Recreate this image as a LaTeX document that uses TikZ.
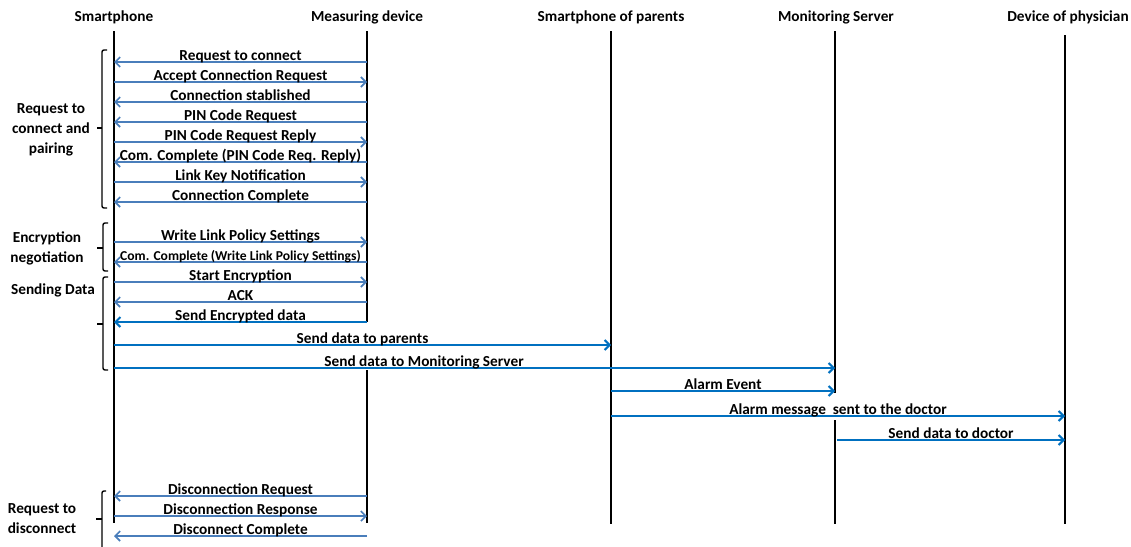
\documentclass[tikz,border=0pt]{standalone}
\usepackage{fontspec}
\setmainfont{Carlito}
\usetikzlibrary{arrows.meta}
\definecolor{msgblue}{HTML}{4A7EBB}
\definecolor{datablue}{HTML}{0070C0}
\newcommand\msgline[5][msg]{%
  \draw[#1] ([yshift=-#2pt]#3) -- node[lbl]{#5} ([yshift=-#2pt]#4);}
\begin{document}
\begin{tikzpicture}[x=1pt,y=-1pt,
  font=\bfseries\fontsize{15.3}{18}\selectfont,
  life/.style={line width=1.7pt,black},
  msg/.style={line width=1.6pt,msgblue,-{Straight Barb[length=5pt,width=10pt]}},
  data/.style={msg,line width=2pt,datablue},
  lbl/.style={midway,anchor=base,yshift=2pt,inner sep=0pt,text=black},
  head/.style={inner sep=0pt},
  group/.style={align=center,inner sep=0pt},
  brace/.style={line width=1.4pt,black,rounded corners=2pt}]
\useasboundingbox (0,0) rectangle (1131,546);

% participants
\node[head] (hsp)  at (114,17)  {Smartphone};
\node[head] (hmd)  at (367,17)  {Measuring device};
\node[head] (hpar) at (611,17)  {Smartphone of parents};
\node[head] (hmon) at (836,17)  {Monitoring Server};
\node[head] (hdoc) at (1068,17) {Device of physician};

% lifeline anchors (top of each lifeline)
\coordinate (sp)  at (114,0);
\coordinate (md)  at (367,0);
\coordinate (par) at (611,0);
\coordinate (mon) at (835,0);
\coordinate (doc) at (1065,0);
\coordinate (mon2) at (837,0);

% lifelines
\draw[life] ([yshift=-31pt]sp) -- ([yshift=-523pt]sp);
\draw[life] ([yshift=-31pt]md) -- ([yshift=-322pt]md);
\draw[life] ([yshift=-370pt]md) -- ([yshift=-523pt]md);
\draw[life] ([yshift=-31pt]par) -- ([yshift=-524pt]par);
\draw[life] ([yshift=-31pt]mon) -- ([yshift=-393pt]mon);
\draw[life] ([yshift=-420pt]mon) -- ([yshift=-524pt]mon);
\draw[life] ([yshift=-35pt]doc) -- ([yshift=-524pt]doc);

% connection and pairing
\msgline{62}{md}{sp}{Request to connect}
\msgline{82}{sp}{md}{Accept Connection Request}
\msgline{102}{md}{sp}{Connection stablished}
\msgline{122}{md}{sp}{PIN Code Request}
\msgline{142}{sp}{md}{PIN Code Request Reply}
\msgline{162}{md}{sp}{Com. Complete (PIN Code Req. Reply)}
\msgline{182}{sp}{md}{Link Key Notification}
\msgline{202}{md}{sp}{Connection Complete}

% encryption negotiation
\msgline{242}{sp}{md}{Write Link Policy Settings}
\msgline{262}{md}{sp}{\fontsize{13.6}{15}\selectfont Com. Complete (Write Link Policy Settings)}

% sending data
\msgline{282}{sp}{md}{Start Encryption}
\msgline{302}{md}{sp}{ACK}
\msgline[data]{322}{md}{sp}{Send Encrypted data}
\msgline[data]{345}{sp}{par}{Send data to parents}
\draw[data] ([yshift=-368pt]sp) -- node[lbl,pos=0.43]{Send data to Monitoring Server} ([yshift=-368pt]mon);
\msgline[data]{391}{par}{mon}{Alarm Event}
\msgline[data]{416}{par}{doc}{Alarm message\ \ sent to the doctor}
\msgline[data]{440}{mon2}{doc}{Send data to doctor}

% disconnection
\msgline{496}{md}{sp}{Disconnection Request}
\msgline{516}{sp}{md}{Disconnection Response}
\msgline{536}{md}{sp}{Disconnect Complete}

% group braces
\draw[brace] (107,50) -- (102,50) -- (102,208) -- (107,208);
\draw[brace] (102,128) -- (97,128);
\draw[brace] (108,223) -- (103,223) -- (103,271) -- (108,271);
\draw[brace] (103,248) -- (97,248);
\draw[brace] (108,277) -- (103,277) -- (103,370) -- (108,370);
\draw[brace] (103,324) -- (97,324);
\draw[brace] (106,491) -- (102,491) -- (102,550);
\draw[brace] (102,519) -- (96,519);

% group labels
\node[group] (g1) at (51,130) {Request to\\[2pt]connect and\\[2pt]pairing};
\node[group] (g2) at (47,248) {Encryption\\[2pt]negotiation};
\node[group] (g3) at (53,290) {Sending Data};
\node[group] (g4) at (42,519) {Request to\\[2pt]disconnect};
\end{tikzpicture}
\end{document}
